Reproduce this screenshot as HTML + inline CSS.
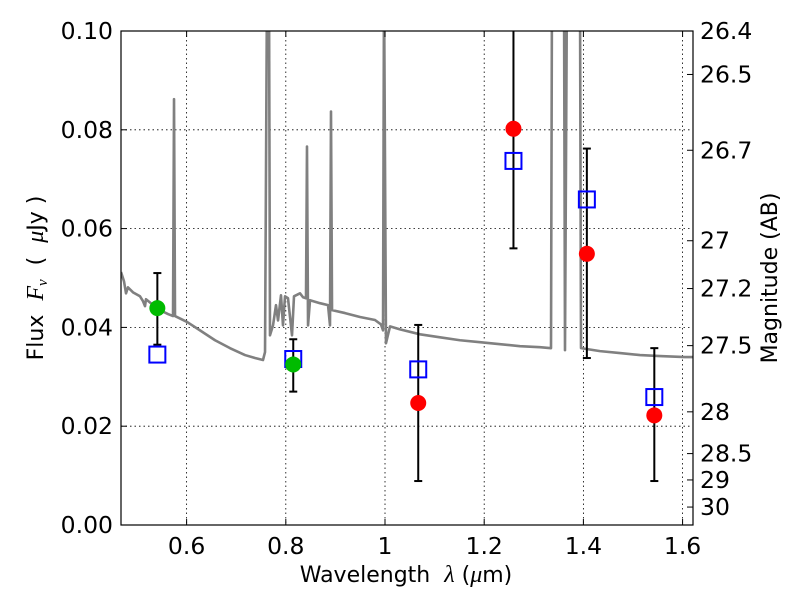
<!DOCTYPE html>
<html><head><meta charset="utf-8"><style>
body{margin:0;background:#fff;width:800px;height:600px;overflow:hidden}
svg{font-family:"DejaVu Sans","Liberation Sans",sans-serif}
</style></head><body>
<svg id="chart" width="800" height="600" xmlns="http://www.w3.org/2000/svg">
<rect width="800" height="600" fill="#fff"/>
<defs><clipPath id="clip"><rect x="121" y="31" width="572" height="494"/></clipPath></defs>
<g id="grid"></g>
<g id="plot" clip-path="url(#clip)"></g>
<g id="axes"></g>
<text x="406" y="582" font-size="22" text-anchor="middle" xml:space="preserve">Wavelength  <tspan font-style="italic" font-family="Liberation Serif,serif" font-size="24">λ</tspan> (<tspan font-style="italic" font-family="Liberation Serif,serif" font-size="24">μ</tspan>m)</text>
<text transform="translate(43,278) rotate(-90)" font-size="22" text-anchor="middle" xml:space="preserve">Flux  <tspan font-style="italic" font-family="Liberation Serif,serif" font-size="24">F<tspan font-size="15" dy="4">ν</tspan></tspan><tspan dy="-4">  (  </tspan><tspan font-style="italic" font-family="Liberation Serif,serif" font-size="24">μ</tspan>Jy )</text>
<text transform="translate(777,278) rotate(-90)" font-size="22" text-anchor="middle">Magnitude (AB)</text>
</svg>
<script>
const xTicks=[0.6,0.8,1.0,1.2,1.4,1.6];
const xTickLabels=["0.6","0.8","1","1.2","1.4","1.6"];
const yTicks=[0,0.02,0.04,0.06,0.08,0.10];
const yTickLabels=["0.00","0.02","0.04","0.06","0.08","0.10"];
const magTicks=[26.4,26.5,26.7,27,27.2,27.5,28,28.5,29,30];
const magTickLabels=["26.4","26.5","26.7","27","27.2","27.5","28","28.5","29","30"];
const specWave=[0.4677,0.4738,0.4778,0.4818,0.4919,0.5060,0.5121,0.5161,0.5181,0.5302,0.5464,0.5625,0.5726,0.5746,0.5766,0.6008,0.6270,0.6573,0.6875,0.7177,0.7379,0.7540,0.7581,0.7621,0.7661,0.7681,0.7742,0.7802,0.7843,0.7903,0.7943,0.7984,0.8044,0.8125,0.8165,0.8286,0.8347,0.8407,0.8427,0.8448,0.8488,0.8690,0.8851,0.8891,0.8911,0.8932,0.9194,0.9496,0.9798,0.9919,0.9960,0.9980,1.0020,1.0101,1.0302,1.0706,1.1109,1.1512,1.1915,1.2319,1.2722,1.3125,1.3347,1.3367,1.3609,1.3629,1.3669,1.3931,1.3952,1.4335,1.4738,1.5141,1.5544,1.6048,1.625];
const specFlux=[0.0512,0.0493,0.0469,0.0481,0.0471,0.0463,0.0453,0.0443,0.0457,0.0447,0.0435,0.0427,0.0423,0.0862,0.0423,0.0411,0.0394,0.0374,0.0358,0.0344,0.0338,0.0334,0.0350,0.11,0.11,0.0384,0.0404,0.0445,0.0414,0.0465,0.0404,0.0463,0.0459,0.0384,0.0463,0.0469,0.0461,0.0459,0.0766,0.0404,0.0455,0.0449,0.0445,0.0404,0.0837,0.0435,0.0429,0.0421,0.0415,0.0406,0.0394,0.11,0.0368,0.0402,0.0396,0.0386,0.0380,0.0374,0.0370,0.0366,0.0362,0.0360,0.0358,0.11,0.11,0.0354,0.11,0.11,0.0358,0.0352,0.0348,0.0344,0.0342,0.0340,0.0340];
const greenWave=[0.541,0.815];
const greenFlux=[0.0439,0.0325];
const greenErrLo=[0.0365,0.0270];
const greenErrHi=[0.0510,0.0376];
const redWave=[1.067,1.259,1.407,1.543];
const redFlux=[0.0247,0.0802,0.0549,0.0222];
const redErrLo=[0.0089,0.0560,0.0338,0.0089];
const redErrHi=[0.0405,0.1100,0.0762,0.0358];
const modelWave=[0.541,0.815,1.067,1.259,1.407,1.543];
const modelFlux=[0.0345,0.0336,0.0315,0.0737,0.0659,0.0259];

const X0=0.4677,X1=1.621,PL=121,PR=693,PT=31,PB=525,Y1=0.1;
const sx=v=>PL+(v-X0)/(X1-X0)*(PR-PL);
const sy=v=>PB-v/Y1*(PB-PT);
const NS="http://www.w3.org/2000/svg";
function mk(tag,attrs,parent){const e=document.createElementNS(NS,tag);for(const k in attrs)e.setAttribute(k,attrs[k]);parent.appendChild(e);return e;}
const grid=document.getElementById('grid'),plot=document.getElementById('plot'),axes=document.getElementById('axes');

xTicks.forEach((t,i)=>{
  const x=sx(t);
  const g=mk('line',{x1:x,x2:x,y1:PT,y2:PB,stroke:'#000','stroke-width':0.8,'stroke-dasharray':'1.5,3'},grid);
  
  
  mk('line',{x1:x,x2:x,y1:PB,y2:PB-6,stroke:'#000','stroke-width':1},axes);
  mk('line',{x1:x,x2:x,y1:PT,y2:PT+6,stroke:'#000','stroke-width':1},axes);
  const tx=mk('text',{x:x,y:PB+29,'font-size':23.5,'text-anchor':'middle'},axes);
  tx.textContent=xTickLabels[i];
  
  
});
yTicks.forEach((t,i)=>{
  const y=sy(t);
  const g=mk('line',{x1:PL,x2:PR,y1:y,y2:y,stroke:'#000','stroke-width':0.8,'stroke-dasharray':'1.5,3'},grid);
  
  
  mk('line',{x1:PL,x2:PL+6,y1:y,y2:y,stroke:'#000','stroke-width':1},axes);
  const tx=mk('text',{x:PL-8,y:y+8,'font-size':23.5,'text-anchor':'end'},axes);
  tx.textContent=yTickLabels[i];
  
  
});
magTicks.forEach((m,i)=>{
  const y=sy(Math.pow(10,(23.9-m)/2.5));
  mk('line',{x1:PR-6,x2:PR,y1:y,y2:y,stroke:'#000','stroke-width':1},axes);
  const tx=mk('text',{x:PR+7,y:y+8,'font-size':23.5,'text-anchor':'start'},axes);
  tx.textContent=magTickLabels[i];
  
  
});
mk('rect',{x:PL,y:PT,width:PR-PL,height:PB-PT,fill:'none',stroke:'#000','stroke-width':1.2},axes);

const sp=mk('polyline',{points:specWave.map((w,i)=>sx(w)+','+sy(specFlux[i])).join(' '),fill:'none',stroke:'#808080','stroke-width':2.6,'stroke-linejoin':'round'},plot);



function errbar(w,lo,hi){
  const x=sx(w);
  const e=mk('g',{},plot);
  
  
  mk('line',{x1:x,x2:x,y1:sy(lo),y2:sy(hi),stroke:'#000','stroke-width':2},e);
  mk('line',{x1:x-4,x2:x+4,y1:sy(lo),y2:sy(lo),stroke:'#000','stroke-width':2},e);
  mk('line',{x1:x-4,x2:x+4,y1:sy(hi),y2:sy(hi),stroke:'#000','stroke-width':2},e);
}
greenWave.forEach((w,i)=>errbar(w,greenErrLo[i],greenErrHi[i]));
redWave.forEach((w,i)=>errbar(w,redErrLo[i],redErrHi[i]));
modelWave.forEach((w,i)=>{
  const r=mk('rect',{x:sx(w)-8,y:sy(modelFlux[i])-8,width:16,height:16,fill:'none',stroke:'#0000ff','stroke-width':2},plot);
  
  
});
greenWave.forEach((w,i)=>{
  const c=mk('circle',{cx:sx(w),cy:sy(greenFlux[i]),r:8,fill:'#00bb00'},plot);
  
  
});
redWave.forEach((w,i)=>{
  const c=mk('circle',{cx:sx(w),cy:sy(redFlux[i]),r:8,fill:'#ff0000'},plot);
  
  
});
</script>
</body></html>
